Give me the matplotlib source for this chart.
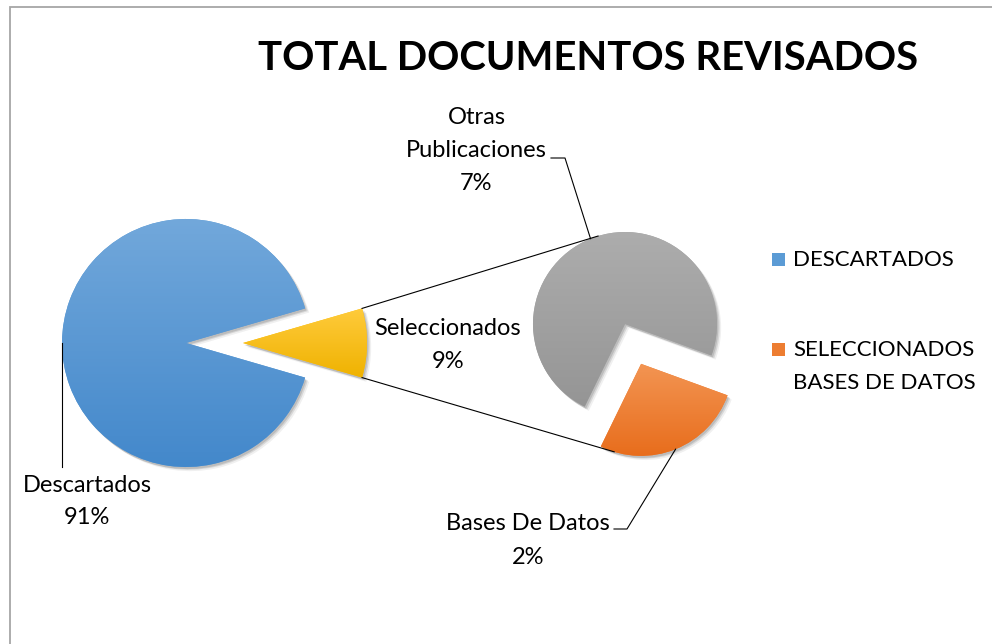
import numpy as np
import matplotlib
matplotlib.use("Agg")
import matplotlib.pyplot as plt
from matplotlib.patches import Rectangle
import matplotlib.patheffects as pe
from matplotlib.colors import to_rgb

# ---------------- data ----------------
title = "TOTAL DOCUMENTOS REVISADOS"
main_labels = ["Descartados", "Seleccionados"]
main_values = [91.0, 9.0]
sub_labels = ["Otras Publicaciones", "Bases De Datos"]
sub_values = [6.6, 2.4]
legend_labels = ["DESCARTADOS", "SELECCIONADOS\nBASES DE DATOS"]

W, H = 992, 644
fig = plt.figure(figsize=(W / 100, H / 100), dpi=100)
ax = fig.add_axes([0, 0, 1, 1])
FONT = "Lato"

total = sum(main_values)
sel_frac = main_values[1] / total

# ---------------- main pie ----------------
main_c = (186, 301)
main_r = 124
w_main, _ = ax.pie(main_values, colors=["#5B9BD5", "#FFC000"],
                   startangle=sel_frac * 180, counterclock=True,
                   center=main_c, radius=main_r, explode=[0, 57])

# ---------------- secondary pie ----------------
sub_c = (625, 320)
sub_r = 92
bf = sub_values[1] / sum(sub_values)
orange_mid = -68.0
sub_start = orange_mid + 180 * bf
w_sub, _ = ax.pie(sub_values, colors=["#A5A5A5", "#ED7D31"],
                  startangle=sub_start, counterclock=True,
                  center=sub_c, radius=sub_r, explode=[0, 43])

grads = [("#72A8DB", "#4388CB"), ("#FFCB3C", "#EFB200"),
         ("#ADADAD", "#959595"), ("#F39553", "#E86D1C")]

shadow = [pe.SimplePatchShadow(offset=(3, -3), shadow_rgbFace="k", alpha=0.06),
          pe.SimplePatchShadow(offset=(2, -2), shadow_rgbFace="k", alpha=0.10),
          pe.SimplePatchShadow(offset=(1, -1.5), shadow_rgbFace="k", alpha=0.12),
          pe.Normal()]

for w, (top, bot) in zip(list(w_main) + list(w_sub), grads):
    w.set_path_effects(shadow)
    w.set_zorder(2)
    v = w.get_path().vertices
    x0, y0 = v.min(0)
    x1, y1 = v.max(0)
    t = np.linspace(0, 1, 256)[:, None, None]
    img = np.array(to_rgb(bot))[None, None, :] * (1 - t) + np.array(to_rgb(top))[None, None, :] * t
    im = ax.imshow(img, extent=[x0, x1, y0, y1], origin="lower", aspect="auto",
                   interpolation="bilinear", zorder=3)
    im.set_clip_path(w)

# ---------------- connector lines ----------------
yel = w_main[1]
ycx, ycy = yel.center
yr = yel.r
a = np.deg2rad(sel_frac * 180)
gray, orange = w_sub
gcx, gcy = gray.center
ocx, ocy = orange.center
ang = np.deg2rad(107)
ax.plot([ycx + yr * np.cos(a), gcx + gray.r * np.cos(ang)],
        [ycy + yr * np.sin(a), gcy + gray.r * np.sin(ang)], color="black", lw=0.8, zorder=4)
ax.plot([ycx + yr * np.cos(-a), ocx + orange.r * np.cos(-ang)],
        [ycy + yr * np.sin(-a), ocy + orange.r * np.sin(-ang)], color="black", lw=0.8, zorder=4)

# ---------------- font fitting ----------------
renderer = fig.canvas.get_renderer()


def fit(s, width, **kw):
    t = ax.text(0, 0, s, fontsize=10, family=FONT, **kw)
    bb = t.get_window_extent(renderer=renderer)
    t.remove()
    return 10 * width / bb.width


fs = fit("Descartados", 130)
fs_title = fit(title, 660, weight="bold")
fs_leg = fit("DESCARTADOS", 160)


def txt(x, y, s, size=None, **kw):
    ax.text(x, y, s, fontsize=size or fs, family=FONT, ha="center", va="center",
            color="black", zorder=5, **kw)


# title
txt(588, 586, title, size=fs_title, weight="bold")

pct = [round(v / total * 100) for v in main_values]
spct = [round(v / total * 100) for v in sub_values]

# Descartados label + leader
blue = w_main[0]
bx = blue.center[0] + blue.r * np.cos(np.deg2rad(180))
by = blue.center[1]
ax.plot([bx, bx], [by, 177], color="black", lw=0.8, zorder=4)
txt(87, 159, main_labels[0])
txt(87, 126, f"{pct[0]}%")

# Seleccionados
txt(448, 316, main_labels[1])
txt(448, 283, f"{pct[1]}%")

# Otras Publicaciones
gm = np.deg2rad((gray.theta1 + gray.theta2) / 2)
px, py = gcx + gray.r * np.cos(gm), gcy + gray.r * np.sin(gm)
ax.plot([px, 565, 551], [py, 486, 486], color="black", lw=0.8, zorder=4)
o1, o2 = sub_labels[0].split(" ")
txt(477, 527, o1)
txt(476, 494, o2)
txt(476, 461, f"{spct[0]}%")

# Bases De Datos
om = np.deg2rad((orange.theta1 + orange.theta2) / 2)
qx, qy = ocx + orange.r * np.cos(om), ocy + orange.r * np.sin(om)
ax.plot([qx, 627, 614], [qy, 115, 115], color="black", lw=0.8, zorder=4)
txt(528, 120, sub_labels[1])
txt(528, 87, f"{spct[1]}%")

# ---------------- legend ----------------
ax.add_patch(Rectangle((772, 378), 13, 13, facecolor="#5B9BD5", edgecolor="none"))
ax.add_patch(Rectangle((772, 288), 13, 13, facecolor="#ED7D31", edgecolor="none"))
ax.text(793, 384, legend_labels[0], fontsize=fs_leg, family=FONT, ha="left", va="center")
l1, l2 = legend_labels[1].split("\n")
ax.text(793, 294, l1, fontsize=fs_leg, family=FONT, ha="left", va="center")
ax.text(793, 261, l2, fontsize=fs_leg, family=FONT, ha="left", va="center")

# chart border (only top and left edges are inside the picture)
ax.plot([10, 10, 1200], [-50, 637, 637], color="#A6A6A6", lw=1.3, zorder=0,
        clip_on=True, solid_joinstyle="miter")

ax.set_xlim(0, W)
ax.set_ylim(0, H)
ax.set_aspect("auto")
ax.axis("off")
fig.savefig("out.png", dpi=100, facecolor="white")
